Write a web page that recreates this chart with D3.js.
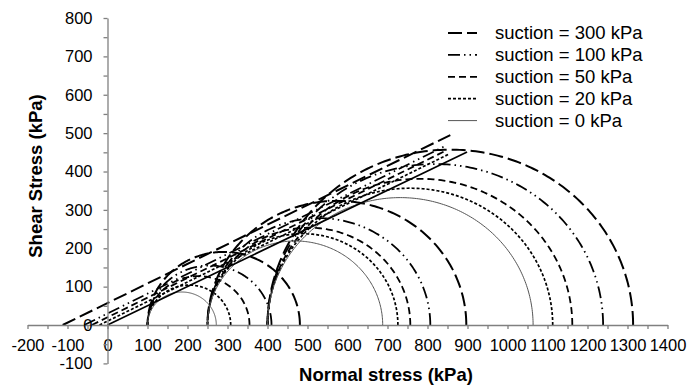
<!DOCTYPE html>
<html><head><meta charset="utf-8">
<script src="https://cdn.jsdelivr.net/npm/d3@7"></script>
<style>html,body{margin:0;padding:0;background:#fff;} svg{display:block;font-family:"Liberation Sans",Arial,sans-serif;}</style>
</head><body><svg id="c" width="689" height="385"></svg>
<script>
// ---- data ----
const xTickLabels = [-200,-100,0,100,200,300,400,500,600,700,800,900,1000,1100,1200,1300,1400];
const yTickLabels = [-100,0,100,200,300,400,500,600,700,800];
const suctionNames = ["suction = 300 kPa","suction = 100 kPa","suction = 50 kPa","suction = 20 kPa","suction = 0 kPa"];
const sigma3 = [100, 250, 400];            // minor principal (net) stress of each test
const sigma1_300 = [481, 897, 1314];        // major principal stress, suction 300
const sigma1_100 = [410, 807, 1239];
const sigma1_50  = [355, 757, 1162];
const sigma1_20  = [308, 726, 1113];
const sigma1_0   = [272, 688, 1064];
const envStartX = [-112, -58, -39, -20, 0]; // envelope start (tau = 0)
const envEndX   = [857, 849, 849, 853, 899];
const envEndY   = [495, 469, 456, 445, 451];

const sigma1All = [sigma1_300, sigma1_100, sigma1_50, sigma1_20, sigma1_0];
const styles = [
  {dash:"14,5", cw:2, lw:2, cc:"#000", lc:"#000"},
  {dash:"12,4,1.5,4,1.5,4", cw:1.8, lw:1.8, cc:"#000", lc:"#000"},
  {dash:"7,4", cw:1.8, lw:1.8, cc:"#000", lc:"#000"},
  {dash:"3,2", cw:1.7, lw:1.7, cc:"#000", lc:"#000"},
  {dash:null, cw:1, lw:1.6, cc:"#555", lc:"#000"}
];

const svg = d3.select("#c");
const x = d3.scaleLinear([-200, 1400], [27.5, 667.5]);
const y = d3.scaleLinear([-100, 800], [363.4, 18]);

// ---- Mohr circles ----
const angles = d3.range(0, 181, 1).map(a => a * Math.PI / 180);
const lineGen = d3.line().x(d => x(d[0])).y(d => y(d[1]));
sigma1All.forEach((s1, si) => {
  const st = styles[si];
  s1.forEach((v, i) => {
    const c = (sigma3[i] + v) / 2, r = (v - sigma3[i]) / 2;
    const pts = angles.map(a => [c + r * Math.cos(a), r * Math.sin(a)]);
    svg.append("path").attr("d", lineGen(pts)).attr("fill", "none")
      .attr("stroke", st.cc).attr("stroke-width", st.cw)
      .attr("stroke-dasharray", st.dash);
  });
});

// ---- failure envelopes ----
envStartX.forEach((sx, i) => {
  const st = styles[i];
  svg.append("path").attr("d", lineGen([[sx, 0], [envEndX[i], envEndY[i]]]))
    .attr("fill", "none").attr("stroke", st.lc).attr("stroke-width", st.lw)
    .attr("stroke-dasharray", st.dash);
});

// ---- axes ----
const axColor = "#808080";
const xAxis = d3.axisBottom(x).tickValues(d3.range(-200, 1401, 50)).tickSize(4).tickSizeOuter(0)
  .tickPadding(10).tickFormat(d => xTickLabels.includes(d) ? String(d) : "");
const gx = svg.append("g").attr("transform", `translate(0,${y(0)})`).call(xAxis);
const yAxis = d3.axisLeft(y).tickValues(d3.range(-100, 801, 50)).tickSize(4).tickSizeOuter(0)
  .tickPadding(11).tickFormat(d => yTickLabels.includes(d) ? String(d) : "");
const gy = svg.append("g").attr("transform", `translate(${x(0)},0)`).call(yAxis);
[gx, gy].forEach(g => {
  g.select(".domain").attr("stroke", axColor).attr("stroke-width", 1.3);
  g.selectAll(".tick line").attr("stroke", axColor).attr("stroke-width", 1.3);
  g.selectAll(".tick text").attr("fill", "#000").attr("font-size", 16.5)
    .attr("font-family", "'Liberation Sans', Arial, sans-serif");
});

// axis titles
svg.append("text").attr("x", 386).attr("y", 381).attr("text-anchor", "middle")
  .attr("font-size", 18.5).attr("font-weight", "bold").text("Normal stress (kPa)");
svg.append("text").attr("transform", "translate(42,176) rotate(-90)").attr("text-anchor", "middle")
  .attr("font-size", 18.5).attr("font-weight", "bold").text("Shear Stress (kPa)");

// ---- legend ----
suctionNames.forEach((name, i) => {
  const st = styles[i];
  const yy = 33 + i * 21.9;
  svg.append("line").attr("x1", 448).attr("x2", 477).attr("y1", yy).attr("y2", yy)
    .attr("stroke", i === 4 ? st.cc : st.lc).attr("stroke-width", i === 4 ? 1 : st.lw)
    .attr("stroke-dasharray", st.dash);
  svg.append("text").attr("x", 495).attr("y", yy).attr("dy", "0.35em")
    .attr("font-size", 18.5).attr("fill", "#000").text(name);
});
</script></body></html>
